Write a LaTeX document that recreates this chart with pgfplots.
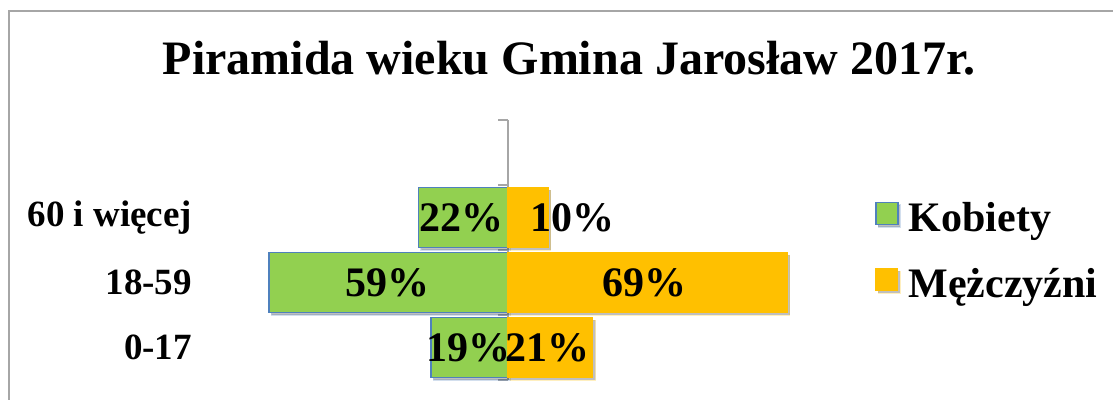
\documentclass[border=0pt]{standalone}
\usepackage{fontspec}
\setmainfont{Liberation Serif}
\usepackage{pgfplots}
\pgfplotsset{compat=1.18}
\usetikzlibrary{shadows}

\definecolor{kob}{HTML}{92D050}
\definecolor{kobedge}{HTML}{4F81BD}
\definecolor{men}{HTML}{FFC000}
\definecolor{framegray}{HTML}{A6A6A6}

\begin{document}
\begin{tikzpicture}
\useasboundingbox (0,0) rectangle (556.5pt,-200pt);
% outer chart frame (right and bottom edges fall outside the picture)
\draw[framegray, line width=1pt] (4.25pt,-210pt) -- (4.25pt,-5.75pt) -- (570pt,-5.75pt);
\node[anchor=base, font=\bfseries\fontsize{24}{28}\selectfont] at (284.5pt,-37.5pt)
  {Piramida wieku Gmina Jarosław 2017r.};
\begin{axis}[
  at={(102pt,-190pt)}, anchor=south west,
  scale only axis, width=324pt, height=130pt,
  xmin=-75, xmax=85, ymin=-0.5, ymax=3.5,
  axis line style={draw=none},
  xtick=\empty, ytick={0,1,2},
  yticklabels={0-17,18-59,60 i więcej},
  major tick length=0pt,
  yticklabel style={font=\bfseries\fontsize{18.5}{22}\selectfont, anchor=east, xshift=-2.5pt},
  clip=false,
  legend style={at={(1.035,0.494)}, anchor=west, draw=none, fill=none,
    font=\bfseries\fontsize{21}{25}\selectfont, row sep=13pt, inner sep=0pt},
  legend cell align=left,
  legend image code/.code={\draw[#1] (0pt,-3pt) rectangle (11pt,8pt); \path (14pt,0pt);},
  bar shadow/.style={drop shadow={shadow xshift=1.3pt, shadow yshift=-1.3pt, opacity=0.25, fill=black}},
]
% category axis at zero
\addplot[framegray, line width=0.8pt, forget plot] coordinates {(0,-0.5) (0,3.5)};
\pgfplotsinvokeforeach{-0.5,0.5,1.5,2.5,3.5}{
  \draw[framegray, line width=0.8pt] (axis cs:0,#1) -- ++(-5pt,0pt);
}
\addplot[xbar, bar shift=0pt, bar width=0.92, fill=kob, draw=kobedge, line width=0.8pt, bar shadow]
  coordinates {(-19,0) (-59,1) (-22,2)};
\addlegendentry{Kobiety}
\addplot[xbar, bar shift=0pt, bar width=0.92, fill=men, draw=men, line width=0.4pt, bar shadow]
  coordinates {(21,0) (69,1) (10,2)};
\addlegendentry{Mężczyźni}
% data labels
\addplot[draw=none, mark=none, forget plot, point meta=explicit symbolic,
  nodes near coords={\pgfplotspointmeta\%},
  nodes near coords align={anchor=center},
  every node near coord/.append style={font=\bfseries\fontsize{21}{25}\selectfont, text=black}]
  table[meta=m] {
x y m
-9.6 0 19
-29.6 1 59
-11.4 2 22
9.8 0 21
33.8 1 69
16 2 10
};
\end{axis}
\end{tikzpicture}
\end{document}
